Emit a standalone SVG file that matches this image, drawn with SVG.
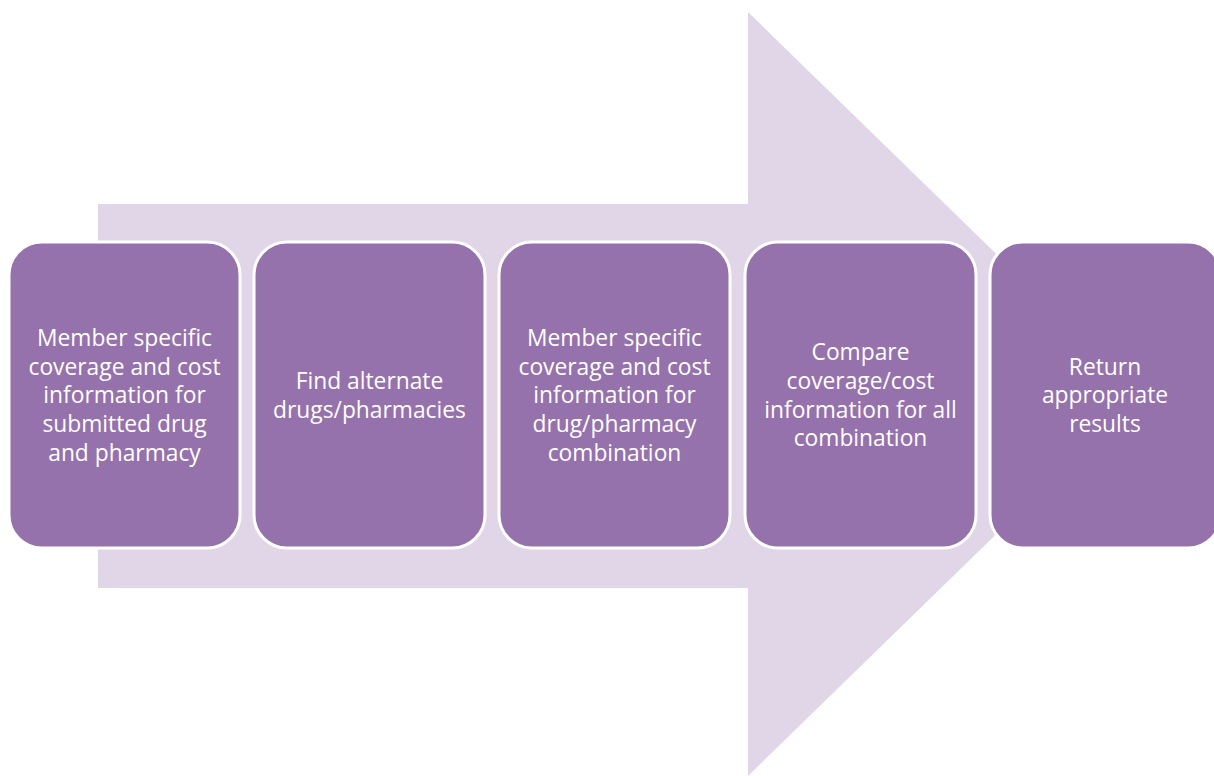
<svg xmlns="http://www.w3.org/2000/svg" width="1214" height="776" viewBox="0 0 1214 776">
<style>
.box{fill:#9672AC;stroke:#FFFFFF;stroke-width:3}
.t{font-family:"Open Sans","Liberation Sans",sans-serif;font-size:22.8px;fill:#FFFFFF;text-anchor:middle}
</style>
<rect width="1214" height="776" fill="#FFFFFF"/>
<g id="arrow">
<polygon points="98,204 748,204 748,12 1140,394 748,776 748,588 98,588" fill="#E1D6E8"/>
</g>
<g id="connectors"></g>
<g id="n1">
<rect class="box" x="9" y="242" width="231" height="306" rx="33"/>
<text class="t" x="124.5"><tspan x="124.5" y="346">Member specific</tspan><tspan x="124.5" y="375">coverage and cost</tspan><tspan x="124.5" y="403">information for</tspan><tspan x="124.5" y="432">submitted drug</tspan><tspan x="124.5" y="461">and pharmacy</tspan></text>
</g>
<g id="n2">
<rect class="box" x="254" y="242" width="231" height="306" rx="33"/>
<text class="t"><tspan x="369.5" y="389">Find alternate</tspan><tspan x="369.5" y="418">drugs/pharmacies</tspan></text>
</g>
<g id="n3">
<rect class="box" x="499" y="242" width="231" height="306" rx="33"/>
<text class="t"><tspan x="614.5" y="346">Member specific</tspan><tspan x="614.5" y="375">coverage and cost</tspan><tspan x="614.5" y="403">information for</tspan><tspan x="614.5" y="432">drug/pharmacy</tspan><tspan x="614.5" y="461">combination</tspan></text>
</g>
<g id="n4">
<rect class="box" x="745" y="242" width="231" height="306" rx="33"/>
<text class="t"><tspan x="860.5" y="360">Compare</tspan><tspan x="860.5" y="389">coverage/cost</tspan><tspan x="860.5" y="418">information for all</tspan><tspan x="860.5" y="446">combination</tspan></text>
</g>
<g id="n5">
<rect class="box" x="990" y="242" width="231" height="306" rx="33"/>
<text class="t"><tspan x="1105" y="375">Return</tspan><tspan x="1105" y="403">appropriate</tspan><tspan x="1105" y="432">results</tspan></text>
</g>
</svg>
